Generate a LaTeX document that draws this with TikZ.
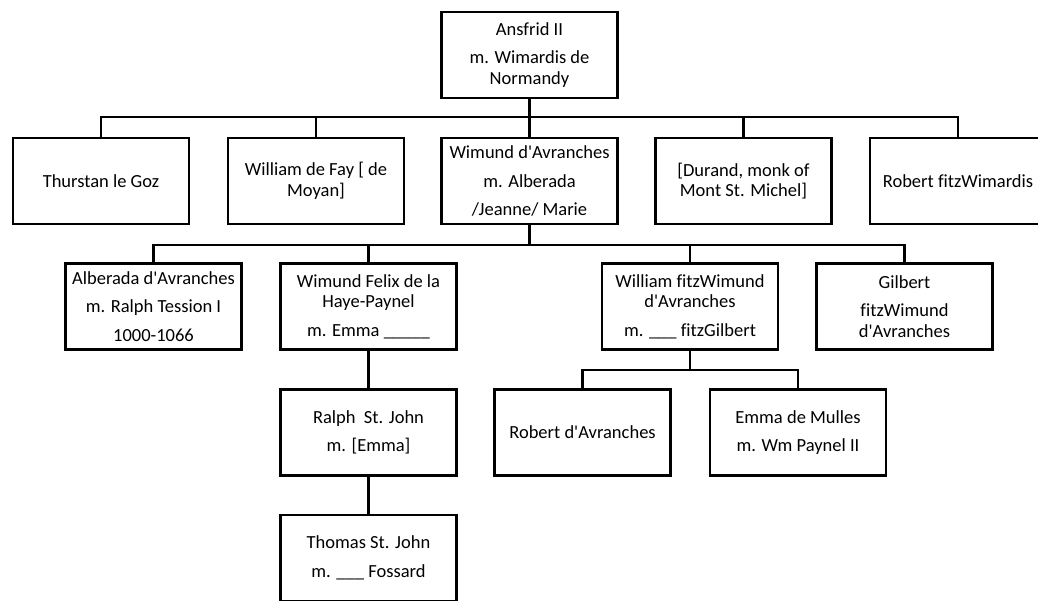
\documentclass[tikz,border=0pt]{standalone}
\usepackage{fontspec}
\setmainfont{Carlito}[Ligatures=NoCommon]
\newcommand{\aps}{\textquotesingle}
\begin{document}
\begin{tikzpicture}[x=1pt,y=-1pt,
  person/.style={draw=black, line width=2.8pt, minimum width=176pt,
    minimum height=86pt, inner sep=0pt, align=center,
    font=\fontsize{18.5}{20.5}\selectfont},
  link/.style={draw=black, line width=2.8pt, line join=miter}]
\useasboundingbox (0,0) rectangle (1038,601);
\clip (0,0) rectangle (1038,601);

% generation 0
\node[person] (ans) at (529.5,55) {Ansfrid II\\[8pt] m. Wimardis de\\ Normandy};

% generation 1
\node[person] (thu) at (101,181) {Thurstan le Goz};
\node[person] (wdf) at (316,181) {William de Fay [ de\\ Moyan]};
\node[person] (wim) at (529.5,181) {Wimund d\aps Avranches\\[8pt] m. Alberada\\[8pt] /Jeanne/ Marie};
\node[person] (dur) at (743.5,181) {[Durand, monk of\\ Mont St. Michel]};
\node[person] (rfw) at (958,181) {Robert fitzWimardis};

% generation 2
\node[person] (alb) at (153.5,306.5) {Alberada d\aps Avranches\\[8pt] m. Ralph Tession I\\[8pt] 1000-1066};
\node[person] (fel) at (368.5,306.5) {Wimund Felix de la\\ Haye-Paynel\\[8pt] m. Emma \_\_\_\_\_};
\node[person] (wfw) at (690,306.5) {William fitzWimund\\ d\aps Avranches\\[8pt] m. \_\_\_ fitzGilbert};
\node[person] (gil) at (904.5,306.5) {Gilbert\\[8pt] fitzWimund\\ d\aps Avranches};

% generation 3
\node[person] (ral) at (368.5,432.5) {Ralph~~St. John\\[8pt] m. [Emma]};
\node[person] (rda) at (582.5,432.5) {Robert d\aps Avranches};
\node[person] (emm) at (798,432.5) {Emma de Mulles\\[8pt] m. Wm Paynel II};

% generation 4
\node[person] (tho) at (368.5,558) {Thomas St. John\\[8pt] m. \_\_\_ Fossard};

% sibling bars
\coordinate (b1) at (0,117);
\coordinate (b2) at (0,245);
\coordinate (b3) at (0,370);

% Ansfrid's children
\draw[link] (ans.south) -- (ans.south |- b1);
\draw[link] (thu.north) |- (b1 -| rfw.north) -- (rfw.north);
\draw[link] (wdf.north) -- (wdf.north |- b1);
\draw[link] (wim.north) -- (wim.north |- b1);
\draw[link] (dur.north) -- (dur.north |- b1);

% Wimund's children
\draw[link] (wim.south) -- (wim.south |- b2);
\draw[link] (alb.north) |- (b2 -| gil.north) -- (gil.north);
\draw[link] (fel.north) -- (fel.north |- b2);
\draw[link] (wfw.north) -- (wfw.north |- b2);

% St. John line
\draw[link] (fel.south) -- (ral.north);
\draw[link] (ral.south) -- (tho.north);

% William fitzWimund's children
\draw[link] (wfw.south) -- (wfw.south |- b3);
\draw[link] (rda.north) |- (b3 -| emm.north) -- (emm.north);
\end{tikzpicture}
\end{document}
